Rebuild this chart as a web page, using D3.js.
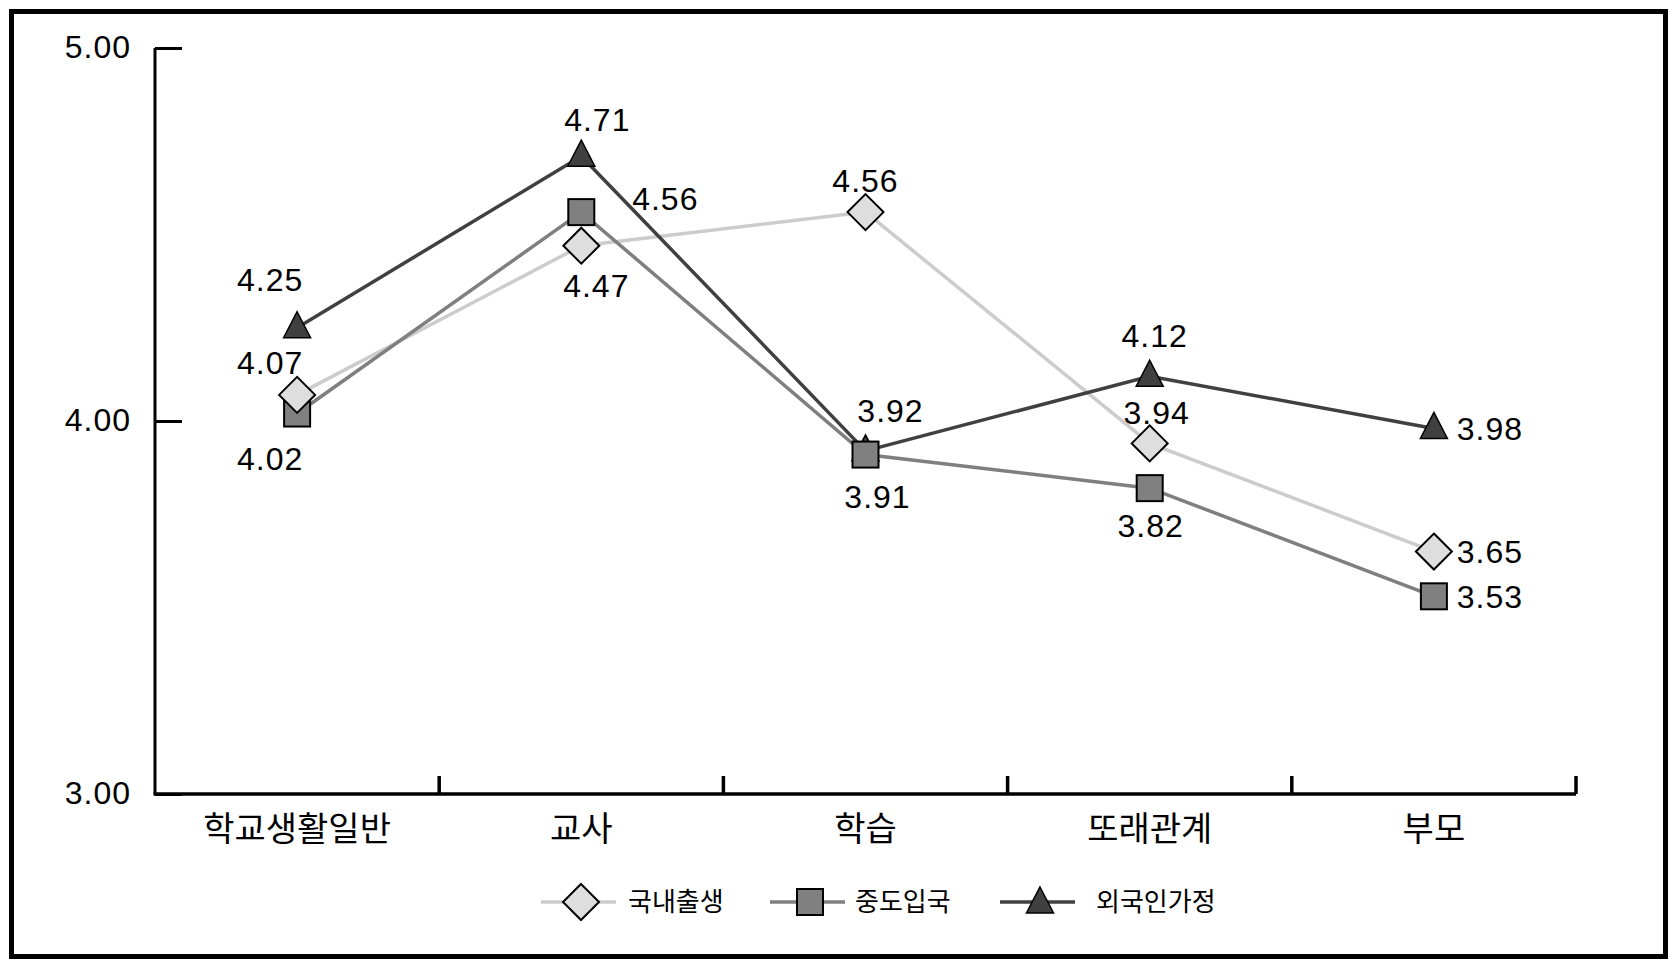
<!DOCTYPE html>
<html><head><meta charset="utf-8">
<script src="https://cdn.jsdelivr.net/npm/d3@7"></script>
<style>body{margin:0;background:#fff}svg{display:block}</style>
</head><body>
<script>
const categories = ["학교생활일반","교사","학습","또래관계","부모"];
const seriesNames = ["국내출생","중도입국","외국인가정"];
const domestic = [4.07,4.47,4.56,3.94,3.65];
const midEntry = [4.02,4.56,3.91,3.82,3.53];
const foreignFam = [4.25,4.71,3.92,4.12,3.98];
const yTicks = [3,4,5];

// label offsets (layout only)
const labelOffsets = [
  [[-27,-32],[15,40],[0,-32],[7,-31],[56,0]],
  [[-27,45],[84,-14],[12,42],[1,37],[56,0]],
  [[-27,-48],[16,-37],[25,-40],[5,-41],[56,0]]
];

const W=1677,H=969;
const svg=d3.select("body").append("svg").attr("width",W).attr("height",H);
svg.append("rect").attr("x",11.5).attr("y",11.5).attr("width",1654).attr("height",945)
  .attr("fill","none").attr("stroke","#000").attr("stroke-width",5);

const x0=155,x1=1576,yTop=48,yBot=794;
const y=d3.scaleLinear().domain([3,5]).range([yBot,yTop]);
const xb=d3.scaleBand().domain(categories).range([x0,x1]);
const xc=c=>xb(c)+xb.bandwidth()/2;

const numFont="'Liberation Sans', Arial, sans-serif";
const korFont="'Noto Sans CJK KR', sans-serif";

// y axis
const yAxis=d3.axisRight(y).tickValues(yTicks).tickSize(27).tickFormat("");
const gy=svg.append("g").attr("transform",`translate(${x0},0)`).call(yAxis);
gy.select(".domain").attr("d",`M0,${yBot}V${yTop}`).attr("stroke","#000").attr("stroke-width",3);
gy.selectAll(".tick line").attr("stroke","#000").attr("stroke-width",3);
svg.append("g").selectAll("text").data(yTicks).join("text")
  .attr("x",131).attr("y",d=>y(d)).attr("dy","0.3em").attr("text-anchor","end")
  .attr("font-family",numFont).attr("font-size",32).attr("letter-spacing",1).attr("fill","#000")
  .text(d=>d3.format(".2f")(d));

// x axis
const gx=svg.append("g").attr("transform",`translate(0,${yBot})`);
gx.append("path").attr("d",`M${x0-1.5},0H${x1}`).attr("stroke","#000").attr("stroke-width",3.5).attr("fill","none");
gx.selectAll("line.tk").data(categories).join("line").attr("class","tk")
  .attr("x1",c=>xb(c)+xb.bandwidth()).attr("x2",c=>xb(c)+xb.bandwidth())
  .attr("y1",-18).attr("y2",0).attr("stroke","#000").attr("stroke-width",3.5);
gx.selectAll("text").data(categories).join("text")
  .attr("x",c=>xc(c)).attr("y",35).attr("dy","0.36em").attr("text-anchor","middle")
  .attr("font-family",korFont).attr("font-size",34).attr("fill","#000").text(c=>c);

const series=[
  {name:seriesNames[0],values:domestic,line:"#cccccc",fill:"#dedede",shape:"diamond"},
  {name:seriesNames[1],values:midEntry,line:"#7f7f7f",fill:"#808080",shape:"square"},
  {name:seriesNames[2],values:foreignFam,line:"#404040",fill:"#404040",shape:"triangle"}
];
function marker(g,shape,fill){
  if(shape==="diamond") g.append("path").attr("d","M0,-18L18,0L0,18L-18,0Z").attr("fill",fill).attr("stroke","#000").attr("stroke-width",2);
  else if(shape==="square") g.append("rect").attr("x",-13).attr("y",-13).attr("width",26).attr("height",26).attr("fill",fill).attr("stroke","#000").attr("stroke-width",2);
  else g.append("path").attr("d","M0,-16L13.5,10L-13.5,10Z").attr("fill",fill).attr("stroke","#000").attr("stroke-width",1.5);
}
const line=d3.line().x((d,i)=>xc(categories[i])).y(d=>y(d));
series.forEach(s=>{
  svg.append("path").datum(s.values).attr("d",line).attr("fill","none")
    .attr("stroke",s.line).attr("stroke-width",3.5);
});
series.slice().reverse().forEach(s=>{
  s.values.forEach((v,i)=>{
    const g=svg.append("g").attr("transform",`translate(${xc(categories[i])},${y(v)})`);
    marker(g,s.shape,s.fill);
  });
});
series.forEach((s,si)=>{
  s.values.forEach((v,i)=>{
    const o=labelOffsets[si][i];
    svg.append("text").attr("x",xc(categories[i])+o[0]).attr("y",y(v)+o[1]).attr("dy","0.36em")
      .attr("text-anchor","middle").attr("font-family",numFont).attr("font-size",32).attr("letter-spacing",1).attr("fill","#000")
      .text(d3.format(".2f")(v));
  });
});

// legend
const legX=[541,770,1000], legTx=[628,855,1096];
const ly=902;
series.forEach((s,i)=>{
  svg.append("line").attr("x1",legX[i]).attr("x2",legX[i]+75).attr("y1",ly).attr("y2",ly)
    .attr("stroke",s.line).attr("stroke-width",3.5);
  const g=svg.append("g").attr("transform",`translate(${legX[i]+40},${ly+(s.shape==="triangle"?1:0)})`);
  marker(g,s.shape,s.fill);
  svg.append("text").attr("x",legTx[i]).attr("y",ly).attr("dy","0.36em")
    .attr("font-family",korFont).attr("font-size",26).attr("fill","#000").text(s.name);
});
</script>
</body></html>
